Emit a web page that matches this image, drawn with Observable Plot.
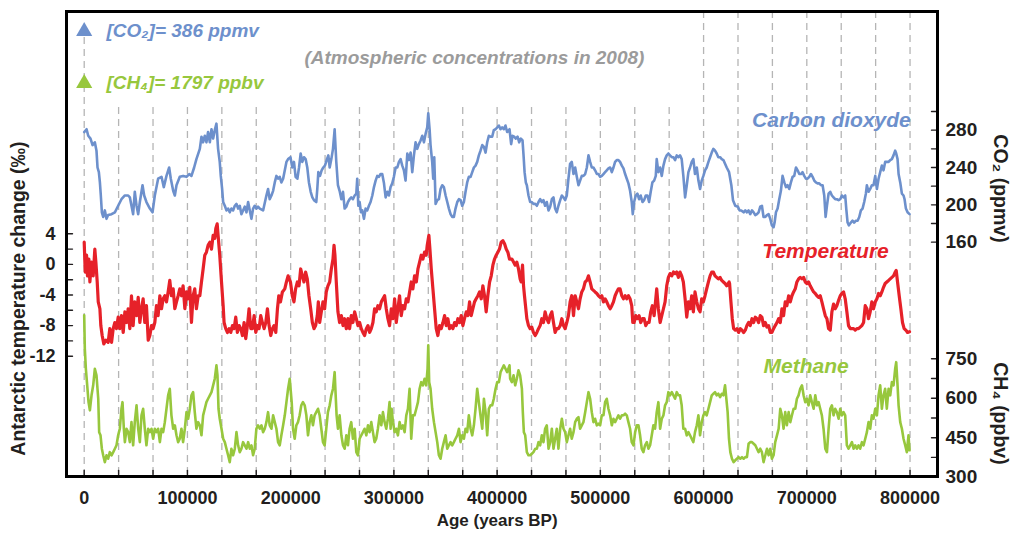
<!DOCTYPE html>
<html><head><meta charset="utf-8">
<script src="https://cdn.jsdelivr.net/npm/d3@7"></script>
<script src="https://cdn.jsdelivr.net/npm/@observablehq/plot@0.6"></script>
<style>
html,body{margin:0;padding:0;background:#fff;}
#chart svg{display:block;}
</style></head><body><div id="chart"></div>
<script>
// ---- Data: [age (kyr BP), value] ----
const co2Series = [[0,278],[2.3,281],[3.9,274],[6.1,271],[8.1,264],[10.3,267],[11.9,258],[12.9,240],[14.2,235],[15.2,224],[16.1,210],[17.1,192],[18.4,187],[20,194],[21.6,185],[23.2,189],[26.5,190],[29.7,192],[32.9,199],[36.1,206],[39.4,210],[42.6,210],[44.2,208],[45.8,199],[47.4,190],[49,214],[50.7,199],[52.3,190],[53.9,203],[56.5,221],[58.1,210],[60.3,203],[63.6,196],[66.2,192],[68.4,210],[71.6,228],[74.9,230],[77.1,219],[79.7,231],[82.3,240],[83.9,228],[86.2,215],[87.8,210],[89.4,221],[92.6,230],[95.8,231],[99.1,230],[101.7,233],[103.9,231],[106.5,240],[108.7,249],[112,260],[113.6,273],[115.2,267],[116.8,274],[118.4,267],[120,278],[121.7,267],[123.3,281],[124.9,271],[126.5,280],[128.1,287],[129.7,260],[131.3,246],[132.3,231],[133.6,217],[134.6,203],[136.2,199],[137.8,194],[139.4,196],[141,192],[142.6,196],[144.2,194],[145.9,199],[147.5,201],[149.1,196],[150.7,199],[152.3,190],[153.9,194],[155.5,198],[157.2,192],[158.8,203],[160.4,194],[162,185],[163.6,196],[165.2,199],[166.8,196],[168.4,198],[170.1,196],[173.3,194],[176.5,210],[178.1,217],[179.7,206],[181.4,210],[183,215],[184.6,224],[186.2,231],[187.8,228],[189.4,230],[191,224],[192.7,228],[195.9,246],[197.5,249],[199.8,251],
[201.6,240],[203.2,246],[204.8,230],[206.5,228],[208.1,240],[209.7,255],[211.3,246],[212.9,251],[214.5,249],[216.1,240],[217.7,224],[219.4,214],[221,208],[222.6,205],[224.8,203],[225.8,217],[226.8,235],[228.4,231],[230,237],[231.6,240],[233.2,242],[234.9,248],[236.5,253],[237.8,240],[239.4,249],[241,260],[242.6,281],[244.2,246],[245.8,221],[247.4,215],[249.1,206],[250.7,214],[252.3,196],[253.9,198],[255.5,203],[257.1,206],[258.7,208],[260.3,206],[262,210],[263.6,212],[264.5,228],[265.5,199],[266.8,203],[268.1,192],[269.4,194],[271,185],[272.6,196],[274.2,194],[275.8,199],[277.4,203],[279.1,210],[280.7,219],[282.3,226],[283.9,231],[285.5,230],[287.1,233],[288.7,233],[290.4,223],[292,208],[293.6,214],[295.2,210],[296.8,219],[298.4,223],[300,230],[301.7,240],[303.3,240],[304.9,246],[306.5,249],[308.1,242],[309.7,237],[311.3,226],[313,255],[314.6,248],[316.2,256],[317.8,235],[319.4,253],[321,267],[322.6,260],[324.2,265],[325.9,269],[327.5,274],[329.1,267],[330.7,276],[332.3,283],[333.3,298],[334.6,281],[335.5,264],[337.1,246],[338.1,228],[339.1,251],[340.4,201],[342,205],[343.6,206],[345.2,217],[346.8,221],[348.4,219],[350.1,210],[351.7,203],[353.3,196],[354.9,190],[356.5,187],[358.1,187],[359.7,196],[361.4,203],[363,206],[364.6,205],[366.2,199],[367.8,203],[369.4,214],[371,224],[372.6,230],[374.3,230],[375.9,235],[377.5,240],[379.1,242],[380.7,246],[382.3,253],[383.9,258],[385.6,264],[387.2,262],[388.8,256],[390.4,267],[392,274],[393.6,273],[395.2,273],[396.8,280],[398.5,281],[400.1,283],[401.7,285],[403.3,281],[404.9,283],[406.5,281],[408.1,285],[409.7,278],[412,281],
[413.6,265],[414.9,274],[416.5,273],[418.1,271],[419.8,273],[421.4,267],[423,271],[424.6,269],[425.6,253],[426.6,235],[427.8,224],[428.8,221],[430.4,210],[432,203],[433.6,203],[435.2,201],[436.9,201],[438.5,199],[440.1,203],[441.7,206],[443.3,203],[444.9,205],[446.5,199],[448.1,203],[449.8,194],[451.4,198],[453,206],[454.6,208],[456.2,196],[457.8,192],[459.4,199],[461.1,205],[462.7,210],[464.3,208],[465.9,205],[467.5,210],[469.1,228],[470.7,244],[472.3,246],[474,233],[475.6,240],[477.2,230],[478.8,221],[480.4,226],[482,231],[483.6,231],[485.3,233],[486.9,240],[488.5,253],[490.1,246],[491.7,240],[493.3,240],[494.9,237],[496.6,233],[498.2,233],[499.8,230],[501.4,231],[503,233],[504.6,235],[506.2,237],[507.8,239],[509.5,240],[511.1,235],[512.7,240],[514.3,246],[515.9,248],[517.5,248],[519.1,246],[520.8,242],[522.4,239],[524,233],[525.6,228],[527.2,223],[528.8,215],[530.4,203],[531.4,190],[532.7,203],[534.3,210],[535.9,212],[537.5,206],[539.1,210],[540.8,203],[542.4,205],[544,210],[545.6,210],[547.2,203],[548.8,214],[550.4,224],[552.1,226],[553.7,231],[554.6,249],[556.2,235],[557.9,240],[559.5,231],[561.1,242],[562.7,249],[564.3,253],[565.9,255],[567.5,253],[569.2,251],[570.8,251],[572.4,248],[574,253],[575.6,251],[577.2,253],[578.8,249],[580.4,231],[582.1,208],[583.7,221],[585.3,235],[586.9,240],[588.5,246],[590.1,249],[591.7,233],[593.4,240],[595,226],[596.6,217],[598.2,226],[599.8,231],[601.4,237],[603,240],[604.7,246],[606.3,251],[607.9,256],[609.5,260],[611.1,258],[612.7,255],[614.3,251],[616,251],[617.6,249],[619.2,248],[620.8,244],[622.4,240],[624.7,235],
[626.9,221],[628.5,205],[630.7,199],[633.3,198],[634.9,194],[636.5,194],[638.8,192],[640.4,194],[642,192],[643.6,194],[645.2,190],[646.9,194],[648.5,192],[650.1,189],[651.7,190],[653.3,192],[654.9,198],[656.5,199],[658.1,187],[659.8,187],[661.4,189],[663,190],[664.6,185],[666.2,178],[667.8,176],[668.8,181],[670.1,192],[671.7,196],[673.3,206],[674.9,215],[676.5,231],[678.2,224],[679.8,219],[681.4,221],[683,217],[684.6,224],[686.2,230],[687.8,231],[689.5,240],[691.1,237],[692.7,233],[694.3,233],[695.9,235],[697.5,231],[699.1,228],[700.7,228],[702.4,230],[704,233],[705.6,230],[707.2,226],[708.8,224],[710.4,223],[712,223],[713.7,221],[715.3,221],[716.9,210],[718.2,187],[719.5,199],[721.1,212],[722.7,214],[724.3,210],[725.9,208],[727.5,206],[729.1,206],[730.8,205],[732.4,206],[734,210],[735.6,208],[737.2,210],[738.2,196],[739.5,181],[740.8,178],[742.7,181],[744.3,183],[745.9,181],[747.6,183],[749.2,183],[750.8,187],[752.4,194],[754,196],[755.6,203],[757.2,212],[758.2,221],[759.8,214],[761.4,217],[763,221],[764.6,221],[766.3,231],[767.9,217],[769.5,228],[771.1,235],[772.7,242],[774.3,237],[775.9,246],[777.5,246],[779.2,246],[780.8,248],[782.4,249],[784,253],[785.6,258],[786.6,255],[787.9,249],[788.9,233],[790.5,224],[792.1,212],[793.7,210],[794.7,206],[796,196],[797.6,192],[799.5,190]];

const tempSeries = [[0,2.9],[1,-1.0],[2.3,1.2],[3.2,-1.5],[4.5,0.7],[5.5,-2.3],[7.1,0.3],[8.7,-1.5],[10.3,2.0],[11.3,0.3],[12.6,-2.3],[13.6,-4.9],[15.2,-5.8],[16.1,-8.0],[17.4,-9.3],[19,-10.4],[21,-9.9],[23.2,-10.2],[24.8,-8.4],[26.5,-10.2],[28.1,-8.4],[29.7,-7.6],[31.3,-8.4],[32.9,-6.9],[34.5,-8.4],[36.1,-6.7],[37.8,-8.9],[39.4,-6.2],[41,-7.6],[42.6,-5.8],[44.2,-8.4],[45.8,-4.1],[47.4,-8.0],[49,-4.9],[50.7,-6.7],[52.3,-4.3],[53.9,-7.6],[55.5,-5.8],[57.1,-4.5],[58.7,-7.6],[60.3,-5.4],[62,-9.9],[63.6,-9.3],[65.2,-8.0],[66.8,-8.4],[68.4,-7.6],[70,-5.4],[71.6,-6.7],[73.3,-4.1],[74.9,-5.8],[76.5,-4.5],[78.1,-4.1],[79.7,-4.9],[81.3,-3.6],[82.9,-2.1],[84.5,-4.1],[86.2,-3.2],[87.8,-5.8],[89.4,-4.9],[91,-4.1],[92.6,-3.2],[94.2,-4.1],[95.8,-2.8],[97.5,-5.8],[99.1,-3.6],[100.7,-4.5],[102.3,-3.0],[103.9,-7.6],[105.5,-4.1],[107.1,-3.2],[108.7,-5.8],[110.4,-4.1],[112,-4.1],[113.6,-2.3],[115.2,-0.6],[116.8,1.2],[118.4,1.6],[120,2.5],[121.7,2.9],[123.3,2.0],[124.9,3.8],[126.5,3.4],[127.5,4.7],[128.8,5.3],[129.7,3.8],[131.3,1.2],[133,-2.3],[134.6,-5.4],[135.5,-7.6],[137.1,-8.4],[138.8,-8.9],[140.4,-8.4],[142,-8.9],[143.6,-8.0],[145.2,-8.4],[146.8,-6.9],[148.4,-8.9],[150.1,-8.0],[151.7,-8.4],[153.3,-9.3],[154.9,-7.6],[156.5,-9.7],[158.1,-8.0],[159.7,-5.8],[161.4,-8.4],[163,-8.4],[164.6,-6.7],[166.2,-8.9],[167.8,-8.0],[169.4,-8.4],[171,-6.7],[172.6,-7.6],[174.3,-8.4],[175.9,-7.6],[177.5,-5.8],[179.1,-8.0],[180.7,-9.3],[182.3,-8.4],[183.9,-8.0],[185.6,-8.9],[187.2,-5.8],[188.5,-4.1],[190.1,-4.9],[192,-3.6],[194.3,-3.2],[195.9,-2.3],[197.5,-1.5],[199.8,-2.3],
[201.6,-4.1],[203.2,-4.9],[204.8,-3.2],[206.5,-2.3],[208.1,-2.8],[209.7,-0.6],[211.3,-1.5],[212.9,-2.3],[214.5,-1.0],[216.1,-1.9],[217.7,-4.1],[219.4,-5.8],[221,-7.6],[222.6,-8.4],[224.2,-8.0],[225.8,-6.7],[226.8,-4.9],[228.1,-7.6],[229.7,-6.2],[231.3,-4.9],[232.9,-5.8],[234.5,-3.6],[236.1,-2.8],[237.8,-2.3],[239.4,-0.6],[241,0.7],[242,2.5],[242.9,1.2],[244.2,-2.3],[245.8,-6.2],[247.4,-7.6],[249.1,-6.7],[250.7,-8.0],[252.3,-7.1],[253.9,-8.4],[255.5,-7.1],[257.1,-8.4],[258.7,-6.7],[260.3,-7.6],[262,-6.2],[263.6,-7.1],[265.2,-8.0],[266.8,-7.6],[268.4,-8.4],[270,-8.9],[271.6,-9.3],[273.3,-8.4],[274.9,-8.0],[276.5,-8.9],[278.1,-8.4],[279.7,-7.6],[281.3,-5.8],[282.9,-6.2],[284.5,-5.4],[286.2,-5.8],[287.8,-4.9],[289.4,-4.5],[291,-4.1],[292.6,-5.8],[294.2,-7.1],[295.8,-8.0],[297.5,-5.8],[299.1,-7.1],[300.7,-4.5],[302.3,-7.6],[303.9,-5.8],[305.5,-4.1],[307.1,-6.7],[308.7,-5.4],[310.4,-5.8],[312,-4.5],[313.6,-4.9],[315.2,-3.6],[316.8,-2.3],[318.4,-3.2],[320,-1.5],[321.7,-2.3],[323.3,-0.6],[324.9,0.3],[326.5,1.2],[328.1,0.7],[329.7,1.6],[331.3,1.2],[332.3,2.5],[333.9,3.8],[334.9,2.0],[336.2,-0.6],[337.8,-3.2],[339.4,-5.8],[341,-8.4],[342.6,-9.3],[344.2,-8.0],[345.9,-8.4],[347.5,-7.6],[349.1,-6.7],[350.7,-8.0],[352.3,-7.1],[353.9,-8.4],[355.5,-8.0],[357.2,-8.4],[358.8,-7.6],[360.4,-8.0],[362,-7.1],[363.6,-7.6],[365.2,-6.7],[366.8,-8.0],[368.4,-7.1],[370.1,-6.2],[371.7,-6.7],[373.3,-4.9],[374.9,-6.7],[376.5,-5.8],[378.1,-4.9],[379.7,-4.5],[381.4,-4.1],[383,-3.6],[384.6,-4.5],[386.2,-2.8],[387.8,-4.1],[389.4,-6.2],[391,-4.1],[392.7,-2.3],[394.3,-1.5],[395.9,-0.1],[397.5,0.7],[399.1,1.2],[400.7,1.6],[402.3,2.0],[403.9,2.9],[405.6,3.1],[407.2,2.7],[408.8,2.0],[410.4,1.6],[412,0.7],
[414.3,0.7],[415.9,0.3],[417.5,-0.1],[419.1,0.3],[420.7,-0.6],[422.3,-1.9],[423.3,-2.3],[424.6,-0.1],[425.6,-2.8],[426.5,-4.1],[427.8,-5.8],[428.8,-7.1],[430.4,-8.0],[432,-8.4],[433.6,-8.2],[435.2,-8.9],[436.9,-9.3],[438.5,-8.9],[440.1,-8.4],[441.7,-8.0],[443.3,-7.1],[444.9,-7.6],[446.5,-6.2],[448.1,-7.1],[449.8,-7.6],[451.4,-6.7],[453,-6.2],[454.6,-7.6],[456.2,-8.9],[457.8,-8.4],[459.4,-8.4],[461.1,-8.0],[462.7,-7.1],[464.3,-8.0],[465.9,-8.4],[467.5,-7.6],[469.1,-6.7],[470.7,-4.9],[472.3,-4.1],[474,-6.7],[475.6,-4.1],[477.2,-4.9],[478.8,-5.8],[480.4,-4.5],[482,-3.6],[483.6,-3.2],[485.3,-2.3],[486.9,-2.1],[488.5,-1.5],[490.1,-2.3],[491.7,-3.2],[493.3,-3.4],[494.9,-3.6],[496.6,-3.8],[498.2,-4.1],[499.8,-4.3],[501.4,-4.1],[503,-4.9],[504.6,-4.5],[506.2,-4.9],[507.8,-5.4],[509.5,-5.8],[511.1,-5.4],[512.7,-4.9],[514.3,-4.1],[515.9,-3.6],[517.5,-3.2],[519.1,-3.2],[520.8,-4.1],[522.4,-4.5],[524,-4.1],[525.6,-4.5],[527.2,-4.1],[528.8,-4.5],[530.4,-5.4],[531.4,-7.6],[532.7,-7.6],[534.3,-6.7],[535.9,-7.1],[537.5,-6.7],[539.1,-7.6],[540.8,-7.1],[542.4,-7.1],[544,-8.0],[545.6,-7.6],[547.2,-7.6],[548.8,-6.2],[550.4,-5.4],[552.1,-6.7],[553.7,-4.5],[554.6,-3.2],[556.2,-5.8],[557.9,-7.6],[559.5,-6.7],[561.1,-5.8],[562.7,-4.9],[564.3,-2.8],[565.9,-1.7],[567.5,-1.2],[569.2,-1.5],[570.8,-1.0],[572.4,-1.2],[574,-1.0],[575.6,-1.7],[577.2,-1.0],[578.8,-1.5],[580.4,-2.3],[582.1,-4.5],[583.7,-6.9],[585.3,-4.9],[586.9,-5.8],[588.5,-4.1],[590.1,-6.2],[591.7,-3.6],[593.4,-4.9],[595,-5.8],[596.6,-6.2],[598.2,-4.5],[599.8,-4.9],[601.4,-4.1],[603,-3.2],[604.7,-2.3],[606.3,-1.5],[607.9,-1.0],[609.5,-1.0],[611.1,-1.5],[612.7,-1.7],[614.3,-1.9],[616,-1.7],[617.6,-2.1],[619.2,-2.3],[620.8,-2.5],[622.4,-2.8],[624.7,-2.3],
[625.2,-2.5],[626.5,-4.9],[627.8,-7.1],[629.1,-8.4],[630.7,-8.6],[632.3,-8.4],[633.9,-8.9],[635.6,-8.4],[637.2,-8.6],[638.8,-8.9],[640.4,-8.6],[642,-8.0],[643.6,-7.6],[645.2,-8.0],[646.9,-7.1],[648.5,-7.6],[650.1,-6.9],[651.7,-7.1],[653.3,-7.6],[654.9,-6.7],[656.5,-6.9],[658.1,-8.0],[659.8,-7.6],[661.4,-8.2],[663,-8.0],[664.6,-8.9],[666.2,-8.9],[667.8,-8.4],[669.4,-8.0],[671.1,-7.6],[672.7,-7.1],[674.3,-7.6],[675.9,-5.8],[677.5,-6.7],[679.1,-4.9],[680.7,-5.4],[682.4,-4.1],[684,-4.9],[685.6,-4.1],[687.2,-3.6],[688.8,-3.2],[690.4,-2.3],[692,-1.9],[693.6,-1.7],[695.3,-1.9],[696.9,-1.7],[698.5,-2.3],[700.1,-2.5],[701.7,-2.3],[703.3,-2.8],[704.9,-3.2],[706.6,-3.6],[708.2,-3.8],[709.8,-4.1],[711.4,-4.3],[713,-4.1],[714.6,-4.9],[716.2,-5.8],[717.9,-6.7],[719.5,-7.1],[721.1,-8.4],[722.7,-8.6],[724.3,-6.2],[725.9,-5.2],[727.5,-5.8],[729.1,-5.4],[730.8,-4.7],[732.4,-4.1],[734,-3.8],[735.6,-3.6],[737.2,-4.5],[738.8,-6.2],[740.4,-8.0],[742.1,-8.4],[743.7,-8.4],[745.3,-8.4],[746.9,-8.6],[748.5,-8.4],[750.1,-8.4],[751.7,-8.2],[753.4,-8.0],[755,-7.6],[756.6,-5.4],[758.2,-5.8],[759.8,-7.1],[761.4,-6.2],[763,-4.9],[764.6,-5.8],[766.3,-4.9],[767.9,-4.5],[769.5,-3.8],[771.1,-4.1],[772.7,-3.6],[774.3,-3.0],[775.9,-2.5],[777.5,-2.3],[779.2,-2.1],[780.8,-1.9],[782.4,-1.7],[784,-1.5],[785.6,-1.0],[786.6,-0.8],[787.9,-2.3],[789.5,-4.1],[791.1,-5.8],[792.7,-7.6],[794.3,-8.4],[796,-8.6],[797.6,-8.9],[799.5,-8.8]];

const ch4Series = [[0,915],[0.6,788],[1.6,712],[2.9,649],[4.2,585],[5.5,554],[7.1,611],[8.7,649],[10.3,712],[11.9,687],[13.6,598],[14.5,471],[15.8,459],[17.1,408],[18.4,383],[20,357],[21.6,383],[23.2,370],[24.8,395],[26.5,383],[28.1,395],[29.7,408],[31.3,421],[32.9,459],[34.5,484],[36.1,560],[37.1,585],[38.4,484],[39.4,433],[41,484],[42.6,471],[44.2,433],[45.8,509],[47.4,421],[49,509],[50.7,573],[52.3,484],[53.9,433],[55.5,535],[57.1,560],[58.7,484],[60.3,421],[62,484],[63.6,471],[65.2,484],[66.8,446],[68.4,484],[70,471],[71.6,484],[73.3,433],[74.9,484],[76.5,471],[78.1,509],[79.7,560],[81.3,611],[82.9,636],[84.5,535],[86.2,484],[87.8,497],[89.4,459],[91,433],[92.6,446],[94.2,484],[95.8,433],[97.5,484],[99.1,547],[100.7,522],[102.3,560],[103.9,611],[105.5,623],[107.1,547],[108.7,484],[110.4,509],[112,497],[113.6,459],[115.2,535],[116.8,560],[118.4,585],[120,598],[121.7,611],[123.3,623],[124.9,649],[126.5,674],[128.1,725],[129.1,687],[130.1,560],[131.3,522],[133,484],[134.6,446],[136.2,433],[137.8,408],[139.4,383],[141,357],[142.6,408],[144.2,383],[145.9,408],[147.5,471],[149.1,421],[150.7,395],[152.3,408],[153.9,433],[155.5,421],[157.2,408],[158.8,433],[160.4,408],[162,421],[163.6,383],[165.2,408],[166.8,484],[168.4,497],[170.1,484],[171.7,497],[173.3,471],[174.9,484],[176.5,509],[178.1,547],[179.7,497],[181.4,484],[183,535],[184.6,509],[186.2,484],[187.8,433],[189.4,421],[191,459],[192.7,497],[194.3,535],[195.9,585],[197.5,636],[199.1,674],
[201,585],[202.3,484],[203.9,446],[205.5,497],[207.1,509],[208.7,535],[210.3,573],[211.9,585],[213.6,573],[215.2,535],[216.8,459],[218.4,509],[220,535],[221.6,497],[223.2,535],[224.8,547],[226.5,560],[228.1,535],[229.7,484],[231.3,433],[232.9,421],[234.5,484],[236.1,547],[237.8,573],[239.4,611],[241,636],[242.6,699],[243.6,611],[244.5,535],[245.8,484],[247.4,535],[249.1,459],[250.7,421],[252.3,408],[253.9,459],[255.5,421],[257.1,484],[258.7,509],[260.3,446],[262,484],[263.6,395],[265.2,383],[266.8,446],[268.4,459],[270,471],[271.6,484],[273.3,459],[274.9,497],[276.5,471],[278.1,509],[279.7,471],[281.3,433],[282.9,446],[284.5,484],[286.2,535],[287.8,497],[289.4,547],[291,509],[292.6,484],[294.2,522],[295.8,585],[296.8,484],[297.8,560],[299.1,509],[300.7,471],[302.3,484],[303.9,459],[305.5,509],[307.1,484],[308.7,497],[310.4,471],[312,535],[313.6,560],[315.2,636],[316.8,446],[318.4,535],[320,535],[321.7,560],[323.3,585],[324.9,636],[326.5,661],[328.1,649],[329.7,674],[331.3,649],[332.6,712],[333.3,801],[334.2,661],[335.5,636],[337.1,560],[338.8,509],[340.4,471],[342,433],[343.6,383],[345.2,370],[346.8,408],[348.4,433],[350.1,459],[351.7,408],[353.3,421],[354.9,433],[356.5,421],[358.1,433],[359.7,446],[361.4,459],[363,484],[364.6,433],[366.2,459],[367.8,446],[369.4,484],[371,471],[372.6,535],[374.3,484],[375.9,459],[377.5,497],[379.1,560],[380.7,636],[382.3,585],[383.9,535],[385.6,484],[387.2,598],[388.8,547],[390.4,459],[392,560],[393.6,573],[395.2,573],[396.8,598],[398.5,636],[400.1,661],[401.7,661],[403.3,699],[404.9,712],[406.5,725],[408.1,712],[409.7,699],[412,725],
[412.6,674],[414.3,661],[415.9,687],[417.5,649],[419.1,674],[420.7,706],[422.3,687],[424,636],[424.9,547],[425.9,471],[427.2,459],[428.8,395],[430.4,383],[432,383],[433.6,389],[435.2,395],[436.9,408],[438.5,408],[440.1,433],[441.7,421],[443.3,459],[444.9,433],[446.5,484],[448.1,497],[449.8,408],[451.4,433],[453,484],[454.6,408],[456.2,446],[457.8,484],[459.4,408],[461.1,484],[462.7,522],[464.3,484],[465.9,471],[467.5,433],[469.1,459],[470.7,484],[472.3,446],[474,471],[475.6,509],[477.2,522],[478.8,528],[480.4,484],[482,497],[483.6,509],[485.3,547],[486.9,585],[488.5,623],[490.1,598],[491.7,547],[493.3,509],[494.9,522],[496.6,497],[498.2,503],[499.8,497],[501.4,535],[503,535],[504.6,585],[506.2,598],[507.8,560],[509.5,535],[511.1,497],[512.7,522],[514.3,509],[515.9,522],[517.5,535],[519.1,522],[520.8,535],[522.4,535],[524,541],[525.6,535],[527.2,509],[528.8,484],[530.4,433],[532.1,421],[533.7,471],[535.3,497],[536.9,497],[538.5,459],[540.1,408],[541.7,395],[543.3,421],[545,433],[546.6,408],[548.2,421],[549.8,459],[551.4,497],[553,484],[554.6,547],[556.2,585],[557.9,484],[559.5,522],[561.1,535],[562.7,573],[564.3,585],[565.9,623],[567.5,611],[569.2,623],[570.8,611],[572.4,598],[574,623],[575.6,611],[577.2,611],[578.8,573],[580.4,484],[582.1,484],[583.7,459],[585.3,471],[586.9,459],[588.5,446],[590.1,433],[591.7,471],[593.4,497],[595,535],[596.6,459],[598.2,509],[599.8,535],[601.4,547],[603,535],[604.7,560],[606.3,585],[607.9,611],[609.5,617],[611.1,623],[612.7,611],[614.3,617],[616,604],[617.6,617],[619.2,611],[620.8,649],[623.3,547],
[624.6,446],[625.9,395],[627.5,370],[629.1,357],[630.7,364],[632.3,370],[633.9,376],[635.6,370],[637.2,376],[638.8,370],[640.4,376],[642,376],[643.6,427],[645.2,433],[646.9,433],[648.5,427],[650.1,421],[651.7,408],[653.3,395],[654.9,408],[656.5,395],[658.1,357],[659.8,383],[661.4,408],[663,383],[664.6,408],[666.2,370],[667.8,383],[669.4,433],[671.1,459],[672.7,484],[674.3,560],[675.9,535],[677.5,484],[679.1,547],[680.7,497],[682.4,547],[684,509],[685.6,535],[687.2,560],[688.8,560],[690.4,598],[692,611],[693.6,636],[695.3,649],[696.9,611],[698.5,585],[700.1,598],[701.7,573],[703.3,611],[704.9,585],[706.6,560],[708.2,611],[709.8,573],[711.4,585],[713,560],[714.6,535],[716.2,484],[717.9,408],[719.5,395],[721.1,484],[722.7,560],[724.3,573],[725.9,535],[727.5,560],[729.1,547],[730.8,522],[732.4,560],[734,535],[735.6,547],[737.2,535],[738.8,421],[740.4,408],[742.1,421],[743.7,433],[745.3,408],[746.9,421],[748.5,408],[750.1,421],[751.7,408],[753.4,433],[755,421],[756.6,446],[758.2,471],[759.8,509],[761.4,484],[763,535],[764.6,522],[766.3,560],[767.9,535],[769.5,611],[771.1,649],[772.7,560],[774.3,611],[775.9,636],[777.5,560],[779.2,636],[780.8,611],[782.4,661],[784,649],[785.6,712],[786.6,737],[787.9,649],[788.9,573],[790.5,509],[792.1,484],[793.7,446],[795.3,421],[796.9,395],[798.5,459],[799.5,402]];

// 2008 atmospheric concentrations (legend markers)
const co2Now = 386;
const ch4Now = 1797;

// tick values / labels
const xTickLabels = [0, 100000, 200000, 300000, 400000, 500000, 600000, 700000, 800000];
const tempTickLabels = [4, 0, -4, -8, -12];
const tempTickMarks = [4, 2, 0, -2, -4, -6, -8, -10, -12];
const co2TickLabels = [160, 200, 240, 280];
const co2TickMarks = [160, 180, 200, 220, 240, 260, 280, 300];
const ch4TickLabels = [300, 450, 600, 750];
const ch4TickMarks = [300, 375, 450, 525, 600, 675, 750];

// ---- layout / styles ----
const W = 1015, H = 536;
const BLUE = "#6d90cc", RED = "#e62129", GREEN = "#97c73d", INK = "#231f20";
const FONT = "'Liberation Sans', Arial, Helvetica, sans-serif";
const xDomain = [-17150, 826600];
const yDomain = [-27.73, 33.06];           // shared vertical scale, in temperature units
// each record is placed on its own band of the shared vertical scale
const co2Map = c => -16.614 + 0.122 * c;
const co2Inv = y => (y + 16.614) / 0.122;
const ch4Map = m => -38.13 + 0.03439 * m;
const ch4Inv = y => (y + 38.13) / 0.03439;

const toRows = (s, f) => s.map(([a, v]) => ({age: a * 1000, y: f(v)}));
const co2Rows = toRows(co2Series, co2Map);
const tempRows = toRows(tempSeries, v => v);
const ch4Rows = toRows(ch4Series, ch4Map);

const gridAges = d3.range(0, 25).map(i => i * 800000 / 24);

const tickShape = {draw(ctx, l) { ctx.moveTo(0, 0); ctx.lineTo(0, -l); }};
const inTick = (data, opts) => Plot.vector(data, {length: 6, anchor: "start", shape: tickShape, stroke: INK, strokeWidth: 1.4, ...opts});

const grid = {stroke: "#b5b5b5", strokeWidth: 1.3, strokeDasharray: "7,5"};
const title = {fill: INK, fontSize: 19.5, fontWeight: "bold", textAnchor: "middle"};

const chart = Plot.plot({
  width: W, height: H,
  marginLeft: 66, marginRight: 78, marginTop: 11, marginBottom: 60,
  style: {fontFamily: FONT, background: "#fff", overflow: "visible"},
  x: {domain: xDomain},
  y: {domain: yDomain},
  marks: [
    Plot.ruleX(gridAges.slice(1), grid),
    // white legend box hiding the grid in the upper-left corner
    Plot.rect([0], {x1: xDomain[0], x2: 587000, y1: 20.6, y2: yDomain[1], fill: "#fff"}),
    Plot.ruleX([0], {...grid, y1: yDomain[0], y2: co2Map(co2Now)}),
    Plot.line(co2Rows, {x: "age", y: "y", stroke: BLUE, strokeWidth: 2.6}),
    Plot.line(tempRows, {x: "age", y: "y", stroke: RED, strokeWidth: 3.2}),
    Plot.line(ch4Rows, {x: "age", y: "y", stroke: GREEN, strokeWidth: 2.6}),
    Plot.dot([co2Now], {x: 0, y: d => co2Map(d), symbol: "triangle", r: 6, fill: BLUE}),
    Plot.dot([ch4Now], {x: 0, y: d => ch4Map(d), symbol: "triangle", r: 6, fill: GREEN}),
    Plot.text([`[CO\u2082]= ${co2Now} ppmv`], {x: 21600, y: co2Map(co2Now), textAnchor: "start", fill: BLUE, fontSize: 19, fontWeight: "bold", fontStyle: "italic"}),
    Plot.text([`[CH\u2084]= ${ch4Now} ppbv`], {x: 21600, y: ch4Map(ch4Now), textAnchor: "start", fill: GREEN, fontSize: 19, fontWeight: "bold", fontStyle: "italic"}),
    Plot.text(["(Atmospheric concentrations in 2008)"], {x: 378000, y: 27.05, fill: "#9b9b9b", fontSize: 19, fontWeight: "bold", fontStyle: "italic"}),
    Plot.text(["Carbon dioxyde"], {x: 800700, y: co2Map(290.5), textAnchor: "end", fill: BLUE, fontSize: 21, fontWeight: "bold", fontStyle: "italic"}),
    Plot.text(["Temperature"], {x: 779400, y: 1.7, textAnchor: "end", fill: RED, fontSize: 21, fontWeight: "bold", fontStyle: "italic"}),
    Plot.text(["Methane"], {x: 740600, y: ch4Map(721), textAnchor: "end", fill: GREEN, fontSize: 21, fontWeight: "bold", fontStyle: "italic"}),
    // inward tick marks
    inTick(gridAges, {x: d => d, y: yDomain[0], rotate: 0}),
    inTick(tempTickMarks, {x: xDomain[0], y: d => d, rotate: 90}),
    inTick(co2TickMarks, {x: xDomain[1], y: d => co2Map(d), rotate: -90}),
    inTick(ch4TickMarks, {x: xDomain[1], y: d => ch4Map(d), rotate: -90}),
    // axes (labels)
    Plot.axisX({ticks: xTickLabels, tickFormat: d => String(d), tickSize: 0, tickPadding: 15, fontSize: 18, fontWeight: "bold", fill: INK, label: null}),
    Plot.axisY({anchor: "left", ticks: tempTickLabels, tickFormat: d => String(d), tickSize: 0, tickPadding: 11, fontSize: 18, fontWeight: "bold", fill: INK, label: null}),
    Plot.axisY({anchor: "right", ticks: co2TickLabels.map(co2Map), tickFormat: d => String(Math.round(co2Inv(d))), tickSize: 0, tickPadding: 8, fontSize: 19, fontWeight: "bold", fill: INK, label: null}),
    Plot.axisY({anchor: "right", ticks: ch4TickLabels.map(ch4Map), tickFormat: d => String(Math.round(ch4Inv(d))), tickSize: 0, tickPadding: 8, fontSize: 19, fontWeight: "bold", fill: INK, label: null}),
    // axis titles
    Plot.text(["Age (years BP)"], {...title, x: 400000, frameAnchor: "bottom", dy: 49, fontSize: 17}),
    Plot.text(["Antarctic temperature change (\u2030)"], {...title, y: -4.46, frameAnchor: "left", dx: -48, rotate: -90}),
    Plot.text(["CO\u2082 (ppmv)"], {...title, y: co2Map(217.5), frameAnchor: "right", dx: 63, rotate: 90}),
    Plot.text(["CH\u2084 (ppbv)"], {...title, y: ch4Map(542), frameAnchor: "right", dx: 63, rotate: 90}),
    Plot.frame({stroke: "#000", strokeWidth: 3})
  ]
});
document.getElementById("chart").appendChild(chart);
</script>
</body></html>
